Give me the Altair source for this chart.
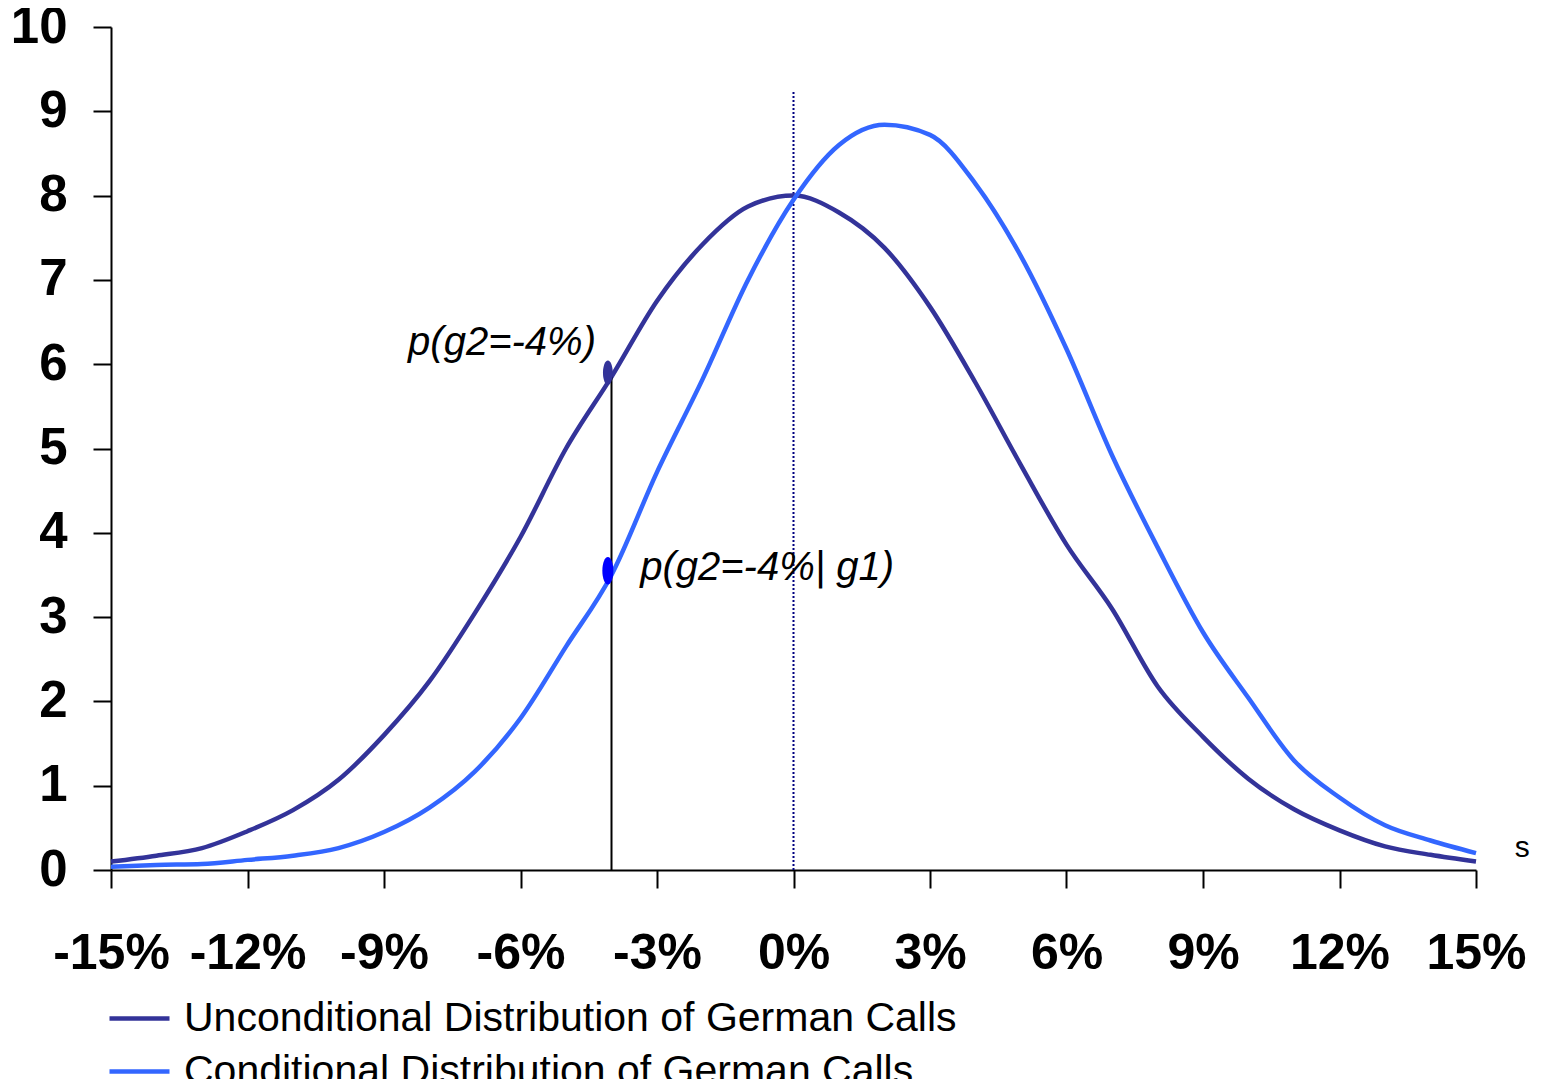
import altair as alt
import pandas as pd

# x positions (percent)
x_pct = [-15, -14, -13, -12, -11, -10, -9, -8, -7, -6, -5, -4, -3, -2, -1, 0,
         1, 2, 3, 4, 5, 6, 7, 8, 9, 10, 11, 12, 13, 14, 15]

unconditional = [0.10, 0.17, 0.26, 0.46, 0.71, 1.07, 1.60, 2.24, 3.05, 3.95, 5.00,
                 5.85, 6.75, 7.42, 7.87, 8.00, 7.80, 7.38, 6.68, 5.78, 4.80, 3.86,
                 3.10, 2.18, 1.58, 1.08, 0.72, 0.47, 0.28, 0.18, 0.10]

conditional = [0.04, 0.06, 0.07, 0.12, 0.17, 0.26, 0.45, 0.74, 1.17, 1.80, 2.65,
               3.50, 4.72, 5.82, 7.00, 7.95, 8.60, 8.84, 8.72, 8.14, 7.28, 6.18,
               4.92, 3.83, 2.82, 2.04, 1.30, 0.86, 0.53, 0.35, 0.20]

series_names = ["Unconditional Distribution of German Calls",
                "Conditional Distribution of German Calls"]
series_colors = ["#333399", "#3366FF"]

x_ticks = [-15, -12, -9, -6, -3, 0, 3, 6, 9, 12, 15]
y_ticks = [0, 1, 2, 3, 4, 5, 6, 7, 8, 9, 10]

# reference lines / markers
zero_line_x = [0, 0]
zero_line_y = [0, 9.23]
g2_line_x = [-4, -4]
g2_line_y = [0, 5.85]
marker_uncond = (-4.08, 5.9)
marker_cond = (-4.08, 3.55)

annotations_text = ["p(g2=-4%)", "p(g2=-4%| g1)"]
annotations_x = [-8.47, -3.37]
annotations_y = [6.11, 3.44]

stray_text = "s"
stray_x = [15.85]
stray_y = [0.15]

FONT = "Liberation Sans"

rows = []
for name, vals in zip(series_names, [unconditional, conditional]):
    for xv, yv in zip(x_pct, vals):
        rows.append({"x": xv, "y": yv, "series": name})
df = pd.DataFrame(rows)

xscale = alt.Scale(domain=[-15, 15], nice=False, zero=False)
yscale = alt.Scale(domain=[0, 10], nice=False)

xaxis = alt.Axis(values=x_ticks, labelExpr="datum.value + '%'", title=None,
                 grid=False, domainColor="black", domainWidth=2, tickColor="black",
                 tickWidth=2, tickSize=18, labelFont=FONT, labelFontSize=50,
                 labelFontWeight="bold", labelColor="black", labelPadding=80,
                 labelBaseline="alphabetic", labelFlush=False, labelOverlap=False)
yaxis = alt.Axis(values=y_ticks, format="d", title=None, grid=False,
                 domainColor="black", domainWidth=2, tickColor="black",
                 tickWidth=2, tickSize=18, labelFont=FONT, labelFontSize=51,
                 labelFontWeight="bold", labelColor="black", labelPadding=26,
                 labelFlush=False, labelOverlap=False)

lines = alt.Chart(df).mark_line(strokeWidth=4.5, strokeJoin="round",
                                interpolate="monotone").encode(
    x=alt.X("x:Q", scale=xscale, axis=xaxis),
    y=alt.Y("y:Q", scale=yscale, axis=yaxis),
    color=alt.Color("series:N",
                    scale=alt.Scale(domain=series_names, range=series_colors),
                    sort=series_names,
                    legend=alt.Legend(orient="none", legendX=-4, legendY=959,
                                      title=None, symbolType="stroke",
                                      symbolSize=3600, symbolStrokeWidth=4.5,
                                      labelFontSize=41, labelFont=FONT,
                                      labelColor="black", labelOffset=12,
                                      rowPadding=0, padding=0, labelLimit=0)),
    order=alt.Order("x:Q"),
)

zero_df = pd.DataFrame({"x": zero_line_x, "y": zero_line_y})
zero_line = alt.Chart(zero_df).mark_line(color="#000080", strokeWidth=2,
                                         strokeDash=[2, 2]).encode(
    x=alt.X("x:Q", scale=xscale), y=alt.Y("y:Q", scale=yscale))

g2_df = pd.DataFrame({"x": g2_line_x, "y": g2_line_y})
g2_line = alt.Chart(g2_df).mark_line(color="black", strokeWidth=2).encode(
    x=alt.X("x:Q", scale=xscale), y=alt.Y("y:Q", scale=yscale))

ellipse = "M -0.4 0 A 0.4 1 0 1 1 0.4 0 A 0.4 1 0 1 1 -0.4 0 Z"
m1 = alt.Chart(pd.DataFrame({"x": [marker_uncond[0]], "y": [marker_uncond[1]]})).mark_point(
    shape=ellipse, filled=True, color="#333399", opacity=1, size=600).encode(
    x=alt.X("x:Q", scale=xscale), y=alt.Y("y:Q", scale=yscale))
m2 = alt.Chart(pd.DataFrame({"x": [marker_cond[0]], "y": [marker_cond[1]]})).mark_point(
    shape=ellipse, filled=True, color="#0000FF", opacity=1, size=760).encode(
    x=alt.X("x:Q", scale=xscale), y=alt.Y("y:Q", scale=yscale))

ann_df = pd.DataFrame({"x": annotations_x, "y": annotations_y, "t": annotations_text})
ann = alt.Chart(ann_df).mark_text(font=FONT, fontSize=40, fontStyle="italic",
                                  align="left", baseline="alphabetic",
                                  color="black").encode(
    x=alt.X("x:Q", scale=xscale), y=alt.Y("y:Q", scale=yscale), text="t:N")

stray_df = pd.DataFrame({"x": stray_x, "y": stray_y, "t": [stray_text]})
stray = alt.Chart(stray_df).mark_text(font=FONT, fontSize=30, align="left",
                                      baseline="alphabetic", color="black",
                                      clip=False).encode(
    x=alt.X("x:Q", scale=xscale), y=alt.Y("y:Q", scale=yscale), text="t:N")

chart = alt.layer(zero_line, lines, g2_line, m1, m2, ann, stray).properties(
    width=1365, height=843,
    autosize=alt.AutoSizeParams(type="none"),
    padding={"left": 103, "top": 19, "right": 57, "bottom": 209},
    background="white",
).configure_view(stroke=None)

chart.save("out.html", embed_options={"renderer": "svg", "actions": False})
